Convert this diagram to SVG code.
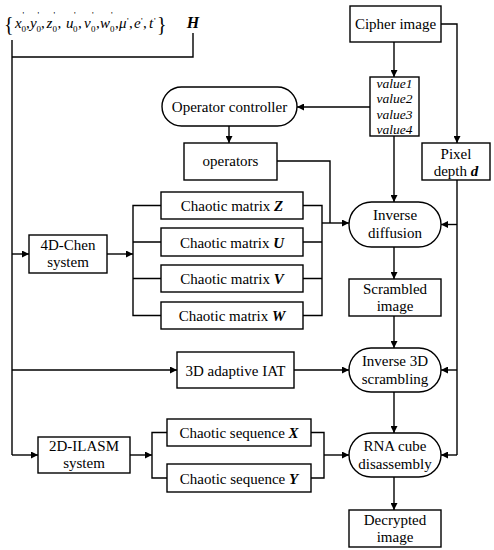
<svg xmlns="http://www.w3.org/2000/svg" width="494" height="550" viewBox="0 0 494 550" font-family="'Liberation Serif', serif">
<defs>
<style>
.b{fill:#fff;stroke:#000;stroke-width:1.4}
.l{fill:none;stroke:#000;stroke-width:1.4}
text{font-family:'Liberation Serif',serif;font-size:15px;fill:#000}
.c{text-anchor:middle}
.i{font-style:italic}
.bi{font-style:italic;font-weight:bold}
.s{font-size:9px}
.v{font-style:italic;font-size:13.5px}
</style>
<marker id="a" viewBox="0 0 10 10" refX="10" refY="5" markerWidth="7" markerHeight="7" markerUnits="userSpaceOnUse" orient="auto"><path d="M0,0L10,5L0,10z" fill="#000"/></marker>
</defs>
<g id="params">
<text x="4" y="31" style="font-size:20px">{</text>
<text x="15" y="28" class="i">x</text><text x="21.5" y="32" class="s">0</text><text x="22.5" y="18" class="s">'</text><text x="26" y="28">,</text>
<text x="30" y="28" class="i">y</text><text x="36.5" y="32" class="s">0</text><text x="37.5" y="18" class="s">'</text><text x="41" y="28">,</text>
<text x="46.5" y="28" class="i">z</text><text x="52.5" y="32" class="s">0</text><text x="53.5" y="18" class="s">'</text><text x="57.5" y="28">,</text>
<text x="66" y="28" class="i">u</text><text x="73" y="32" class="s">0</text><text x="74" y="18" class="s">'</text><text x="78" y="28">,</text>
<text x="84" y="28" class="i">v</text><text x="91" y="32" class="s">0</text><text x="92" y="18" class="s">'</text><text x="96" y="28">,</text>
<text x="100" y="28" class="i">w</text><text x="110" y="32" class="s">0</text><text x="111" y="18" class="s">'</text><text x="115" y="28">,</text>
<text x="119" y="28" class="i">μ</text><text x="127" y="24" class="s">'</text><text x="129" y="28">,</text>
<text x="134" y="28" class="i">e</text><text x="141" y="24" class="s">'</text><text x="143" y="28">,</text>
<text x="149" y="28" class="i">t</text><text x="154" y="24" class="s">'</text>
<text x="157" y="31" style="font-size:20px">}</text>
</g>
<g id="H"><text x="193" y="28" class="bi c" style="font-size:16px">H</text></g>
<g id="cipher"><rect class="b" x="350" y="6" width="91" height="36"/><text x="395.5" y="29" class="c">Cipher image</text></g>
<g id="values"><rect class="b" x="370" y="77" width="49" height="59"/>
<text x="394.5" y="88" class="v c">value1</text><text x="394.5" y="103" class="v c">value2</text><text x="394.5" y="119" class="v c">value3</text><text x="394.5" y="134" class="v c">value4</text></g>
<g id="pixel"><rect class="b" x="422" y="143" width="68" height="37"/><text x="456" y="159" class="c">Pixel</text><text x="456" y="176" class="c">depth <tspan class="bi">d</tspan></text></g>
<g id="controller"><rect class="b" x="162" y="87" width="135" height="39" rx="19.5"/><text x="229.5" y="111.5" class="c">Operator controller</text></g>
<g id="operators"><rect class="b" x="184" y="143" width="93" height="37"/><text x="230.5" y="166" class="c">operators</text></g>
<g id="matZ"><rect class="b" x="161" y="192" width="142" height="27"/><text x="232" y="210.5" class="c">Chaotic matrix <tspan class="bi">Z</tspan></text></g>
<g id="matU"><rect class="b" x="161" y="228" width="142" height="28"/><text x="232" y="247.5" class="c">Chaotic matrix <tspan class="bi">U</tspan></text></g>
<g id="matV"><rect class="b" x="161" y="265" width="142" height="27"/><text x="232" y="283.5" class="c">Chaotic matrix <tspan class="bi">V</tspan></text></g>
<g id="matW"><rect class="b" x="161" y="302" width="142" height="27"/><text x="232" y="320.5" class="c">Chaotic matrix <tspan class="bi">W</tspan></text></g>
<g id="chen"><rect class="b" x="29" y="235" width="78" height="38"/><text x="68" y="250" class="c">4D-Chen</text><text x="68" y="267" class="c">system</text></g>
<g id="invdiff"><rect class="b" x="349" y="202" width="92" height="45" rx="22.5"/><text x="395" y="220" class="c">Inverse</text><text x="395" y="238" class="c">diffusion</text></g>
<g id="scrambled"><rect class="b" x="349" y="279" width="92" height="37"/><text x="395" y="294" class="c">Scrambled</text><text x="395" y="311" class="c">image</text></g>
<g id="iat"><rect class="b" x="177" y="352" width="117" height="36"/><text x="235.5" y="375.5" class="c">3D adaptive IAT</text></g>
<g id="inv3d"><rect class="b" x="349" y="348" width="92" height="44" rx="22"/><text x="395" y="366" class="c">Inverse 3D</text><text x="395" y="384" class="c">scrambling</text></g>
<g id="ilasm"><rect class="b" x="38" y="437" width="92" height="36"/><text x="84" y="451" class="c">2D-ILASM</text><text x="84" y="468" class="c">system</text></g>
<g id="seqX"><rect class="b" x="167" y="419" width="144" height="27"/><text x="239" y="437.5" class="c">Chaotic sequence <tspan class="bi">X</tspan></text></g>
<g id="seqY"><rect class="b" x="167" y="464" width="144" height="28"/><text x="239" y="483.5" class="c">Chaotic sequence <tspan class="bi">Y</tspan></text></g>
<g id="rna"><rect class="b" x="349" y="433" width="92" height="44" rx="22"/><text x="395" y="451" class="c">RNA cube</text><text x="395" y="469" class="c">disassembly</text></g>
<g id="decrypted"><rect class="b" x="349" y="510" width="92" height="37"/><text x="395" y="525" class="c">Decrypted</text><text x="395" y="542" class="c">image</text></g>
<g id="connectors">
<path class="l" d="M12,40V455M12,57H193V33"/>
<path class="l" d="M12,254H29" marker-end="url(#a)"/>
<path class="l" d="M12,370H177" marker-end="url(#a)"/>
<path class="l" d="M12,455H38" marker-end="url(#a)"/>
<path class="l" d="M394,42V77" marker-end="url(#a)"/>
<path class="l" d="M441,24H457V143" marker-end="url(#a)"/>
<path class="l" d="M370,107H297" marker-end="url(#a)"/>
<path class="l" d="M229,126V143" marker-end="url(#a)"/>
<path class="l" d="M394,136V202" marker-end="url(#a)"/>
<path class="l" d="M277,161H330V223"/>
<path class="l" d="M107,254H133" marker-end="url(#a)"/>
<path class="l" d="M161,205.5H133V315.5H161M133,242H161M133,278.5H161"/>
<path class="l" d="M303,205.5H322V315.5H303M303,242H322M303,278.5H322"/>
<path class="l" d="M322,223H349" marker-end="url(#a)"/>
<path class="l" d="M457,180V455"/>
<path class="l" d="M457,224.5H441" marker-end="url(#a)"/>
<path class="l" d="M457,370H441" marker-end="url(#a)"/>
<path class="l" d="M457,455H441" marker-end="url(#a)"/>
<path class="l" d="M394,247V279" marker-end="url(#a)"/>
<path class="l" d="M394,316V348" marker-end="url(#a)"/>
<path class="l" d="M294,370H349" marker-end="url(#a)"/>
<path class="l" d="M394,392V433" marker-end="url(#a)"/>
<path class="l" d="M394,477V510" marker-end="url(#a)"/>
<path class="l" d="M130,455H152" marker-end="url(#a)"/>
<path class="l" d="M167,432.5H152V478H167"/>
<path class="l" d="M311,432.5H324V478H311"/>
<path class="l" d="M324,455H349" marker-end="url(#a)"/>
</g>
</svg>
